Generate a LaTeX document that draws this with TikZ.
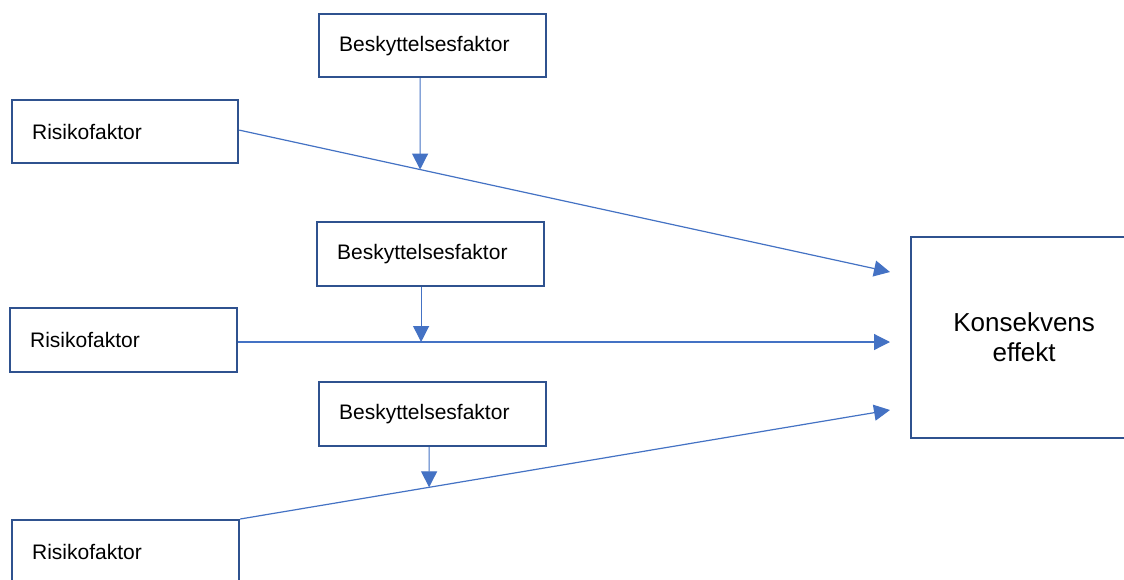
\documentclass[tikz,border=0pt]{standalone}
\usepackage{fontspec}
\setmainfont{Liberation Sans}
\usetikzlibrary{arrows.meta,calc}
\definecolor{boxc}{HTML}{2F528F}
\definecolor{linec}{HTML}{4472C4}
\begin{document}
\begin{tikzpicture}[x=1pt,y=-1pt,
  box/.style={draw=boxc, line width=2.2pt, minimum width=227pt, minimum height=63pt,
    inner xsep=20pt, inner ysep=0pt, text width=187pt, align=left, anchor=north west,
    font=\fontsize{21}{25}\selectfont},
  arr/.style={draw=linec, line width=1.2pt, -{Triangle[length=16pt,width=16pt]}}]
\useasboundingbox (0,0) rectangle (1124,579);
\clip (0,0) rectangle (1124,579);
\fill[white] (0,0) rectangle (1124,579);

% nodes
\node[box] (B1) at (318,13) {Beskyttelsesfaktor};
\node[box, minimum width=226pt, text width=186pt] (R1) at (11,99) {Risikofaktor};
\node[box, minimum height=64pt] (B2) at (316,221) {Beskyttelsesfaktor};
\node[box, minimum height=64pt] (R2) at (9,307) {Risikofaktor};
\node[box, minimum height=64pt] (B3) at (318,381) {Beskyttelsesfaktor};
\node[box, minimum height=64pt] (R3) at (11,519) {Risikofaktor};
\node[box, minimum width=226pt, minimum height=201pt, text width=200pt, inner xsep=13pt,
  align=center, font=\fontsize{26}{30}\selectfont] (K) at (910,236) {Konsekvens\\effekt};

% arrow targets
\coordinate (t1) at (890,272);
\coordinate (t2) at (890,342);
\coordinate (t3) at (890,410);

% main arrows
\draw[arr] ([yshift=1.5pt]R1.east) -- (t1);
\draw[arr] (R2.east |- t2) -- (t2);
\draw[arr] (R3.north east) -- (t3);

% vertical arrows
\coordinate (v1) at ([xshift=-12.5pt]B1.south);
\coordinate (v1b) at ([xshift=-12.5pt,yshift=-200pt]B1.south);
\coordinate (r1s) at ([yshift=1.5pt]R1.east);
\coordinate (m1) at (intersection of r1s--t1 and v1--v1b);
\draw[arr] (v1) -- (m1);

\coordinate (v2) at ([xshift=-9.5pt]B2.south);
\draw[arr] (v2) -- (v2 |- t2);

\coordinate (v3) at ([xshift=-3.5pt]B3.south);
\coordinate (v3b) at ([xshift=-3.5pt,yshift=-200pt]B3.south);
\coordinate (m3) at (intersection of R3.north east--t3 and v3--v3b);
\draw[arr] (v3) -- (m3);
\end{tikzpicture}
\end{document}
